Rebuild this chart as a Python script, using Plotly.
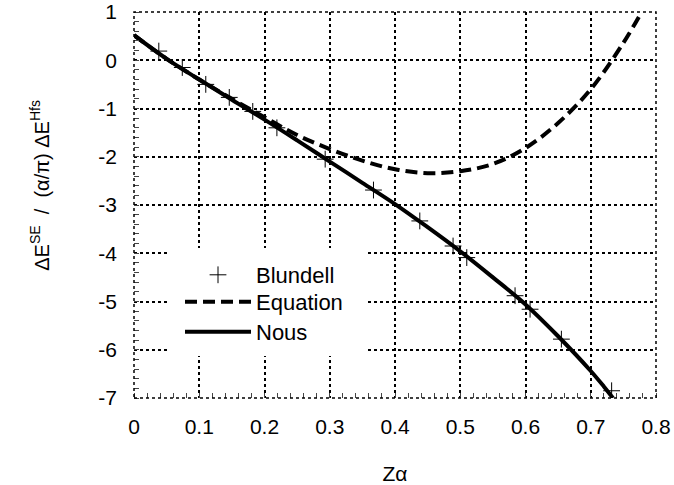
import plotly.graph_objects as go

# Blundell reference points (Z alpha, value)
blundell_x = [0.038, 0.074, 0.110, 0.146, 0.182, 0.219, 0.293, 0.367, 0.438, 0.489, 0.510, 0.584, 0.607, 0.655, 0.732]
blundell_y = [0.19, -0.15, -0.50, -0.77, -1.06, -1.40, -2.05, -2.69, -3.33, -3.85, -4.09, -4.88, -5.16, -5.78, -6.85]

# Equation (dashed)
eq_x = [0.0, 0.05, 0.1, 0.15, 0.2, 0.25, 0.3, 0.35, 0.4, 0.45, 0.5, 0.55, 0.6, 0.65, 0.7, 0.75, 0.778]
eq_y = [0.52, 0.03, -0.40, -0.80, -1.18, -1.55, -1.84, -2.08, -2.26, -2.34, -2.30, -2.15, -1.82, -1.30, -0.60, 0.36, 1.0]

# Nous (solid)
nous_x = [0.0, 0.05, 0.1, 0.15, 0.2, 0.25, 0.3, 0.35, 0.4, 0.45, 0.5, 0.55, 0.6, 0.65, 0.7, 0.72, 0.734]
nous_y = [0.52, 0.03, -0.40, -0.82, -1.23, -1.66, -2.10, -2.54, -2.98, -3.46, -3.96, -4.50, -5.06, -5.72, -6.44, -6.76, -7.0]

x_ticks = [0, 0.1, 0.2, 0.3, 0.4, 0.5, 0.6, 0.7, 0.8]
x_ticklabels = ["0", "0.1", "0.2", "0.3", "0.4", "0.5", "0.6", "0.7", "0.8"]
y_ticks = [1, 0, -1, -2, -3, -4, -5, -6, -7]
y_ticklabels = ["1", "0", "-1", "-2", "-3", "-4", "-5", "-6", "-7"]

FONT = "Liberation Sans, Arial, sans-serif"

fig = go.Figure()
fig.add_trace(go.Scatter(
    x=blundell_x, y=blundell_y, mode="markers", name="Blundell", legend="legend",
    marker=dict(symbol="cross-thin", size=12, line=dict(width=1, color="black"), color="black"),
))
fig.add_trace(go.Scatter(
    x=eq_x, y=eq_y, mode="lines", name="Equation", legend="legend2",
    line=dict(color="black", width=4, dash="12px,6px", shape="spline"),
))
fig.add_trace(go.Scatter(
    x=nous_x, y=nous_y, mode="lines", name="Nous", legend="legend3",
    line=dict(color="black", width=4, shape="spline"),
))

axis_common = dict(
    showline=False, zeroline=False, mirror="allticks", automargin=False,
    showgrid=True, gridcolor="black", gridwidth=1.5, griddash="dot",
    ticks="", tickfont=dict(family=FONT, size=21, color="black"),
)

fig.update_xaxes(
    range=[0, 0.8], tickvals=x_ticks, ticktext=x_ticklabels,
    minor=dict(dtick=0.02, tick0=0, ticks="inside", ticklen=5, tickwidth=1, tickcolor="#444", showgrid=False),
    ticklabelstandoff=14,
    title=dict(text="Zα", font=dict(family=FONT, size=21, color="black"), standoff=30),
    **axis_common,
)
fig.update_yaxes(
    range=[-7, 1], tickvals=y_ticks, ticktext=y_ticklabels,
    minor=dict(dtick=0.2, tick0=0, ticks="inside", ticklen=5, tickwidth=1, tickcolor="#444", showgrid=False),
    ticklabelstandoff=16,
    **axis_common,
)

# white box behind the legend (covers the grid like the reference)
fig.add_shape(type="rect", xref="paper", yref="paper",
              x0=(170 - 134) / 522, x1=(368 - 134) / 522,
              y0=(398 - 356) / 386, y1=(398 - 248) / 386,
              line=dict(width=0), fillcolor="white", layer="above")

fig.add_shape(type="rect", xref="paper", yref="paper", x0=0, y0=0, x1=1, y1=1,
              line=dict(color="black", width=1.5, dash="dot"), layer="above")

fig.add_annotation(
    text="ΔE<sup>SE</sup>&nbsp;&nbsp;/&nbsp;&nbsp;(α/π)&nbsp;ΔE<sup>Hfs</sup>",
    textangle=-90, xref="paper", yref="paper", x=-0.18, y=0.55,
    xanchor="center", yanchor="middle", showarrow=False,
    font=dict(family=FONT, size=20, color="black"),
)

leg_common = dict(xanchor="left", yanchor="middle", bgcolor="rgba(0,0,0,0)", borderwidth=0,
                  font=dict(family=FONT, size=22, color="black"), itemwidth=66)
lx = (180 - 134) / 522
fig.update_layout(
    width=674, height=485,
    margin=dict(l=134, r=18, t=12, b=87),
    plot_bgcolor="white", paper_bgcolor="white",
    showlegend=True,
    legend=dict(x=lx, y=(398 - 275) / 386, **leg_common),
    legend2=dict(x=lx, y=(398 - 302) / 386, **leg_common),
    legend3=dict(x=lx, y=(398 - 332) / 386, **leg_common),
)

fig.write_html("out.html", config={"displayModeBar": False},
               post_script="document.body.style.margin='0';document.body.style.padding='0';")
